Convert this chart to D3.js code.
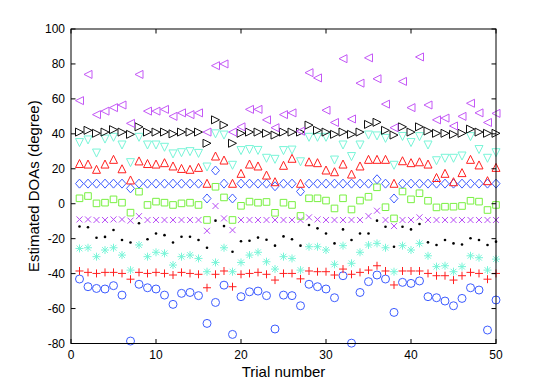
<!DOCTYPE html>
<html><head><meta charset="utf-8">
<script src="https://cdn.jsdelivr.net/npm/d3@7"></script>
<style>body{margin:0;background:#fff}svg{display:block}</style>
</head><body><svg id="c" width="548" height="386"></svg>
<script>
const trials = d3.range(1, 51);
const xTicks = [0, 10, 20, 30, 40, 50];
const yTicks = [-80, -60, -40, -20, 0, 20, 40, 60, 80, 100];

const leftTri = [59,74,51,53,55,56.5,46,74,53,53, 54,50,52,51,52,41,79,80,41,44, 54,54,48,43.5,51,52,41.5,75,72,53.5, 46.5,83,48.5,69,83.5,71.5,57,43.5,70,55, 84,56.5,48,49,44.5,50,57.5,52,46.5,51.7];
const rightTri = [41,42,40.3,41,42.4,41,39.7,44,41,41, 41,40,41,41,41,34.6,48,45,34.6,40.3, 41,41,40.3,39.3,41,41,41,45,42,41, 39.7,41,39.7,41,45.4,46.6,42,39.3,44,41, 44,41.6,40.3,40.3,39.7,40.3,42.7,41,40.3,40.3];
const downTri = [35,36.5,29,37,38,33.6,23.5,38,33.6,33.6, 32.3,28.5,29.2,29.8,28.8,21,40,39.3,22,30.4, 31,30.5,26,25.4,30.4,30.7,24,38,38,38, 25,33.6,27,33.6,39.3,38.8,37.4,22,38.5,35, 38.4,33.6,24.6,26,26,27.3,38.4,31,26,29.2];
const upTri = [23,22.7,19.7,22.7,25.4,20,13.6,24.5,23,22.7, 23.5,21.6,20.2,19.7,20.8,11.7,27.3,25,11.7,17.4, 22.7,21.6,16.4,12.6,22,26,11.7,24,23.5,19.3, 18.3,22.7,17,21.6,25.4,25.4,25.4,11.7,24.6,23.5, 24,22.7,15,17.4,12.6,17.8,25.4,22.2,13.2,20.8];
const diamonds = [11.5,11.5,11.5,11.5,11.5,11.5,8.8,11.5,11.5,11.5, 11.5,11.5,11.5,11.5,11.5,3,19,11.5,3,11.5, 11.5,11.5,11.5,10,11.5,11.5,7,11.5,11.5,11.5, 11.5,11.5,11.5,11.5,11.5,14,11.5,3,11.5,11.5, 11.5,11.5,11.5,11.5,11.5,11.5,11.5,11.5,11.5,11.5];
const squares = [3.1,4.4,0.2,0.6,2.5,0.6,-5.1,6.9,-0.7,1.2, 0.6,-0.7,0.2,0.6,-0.7,-9.3,9.7,3.6,-9.3,-1.2, 1.2,0.6,1,-5.2,0.6,-0.7,-7,3.1,3.1,1.8, -2.7,3.1,-3.3,1.8,4,9.4,-2,-8.4,7,2.5, 6,1.7,-2.1,-1.7,-1.7,-1.3,1.7,1.2,-3.6,-0.7];
const crosses = [-9,-9,-9.3,-9.3,-9,-9,-9.7,-7.1,-9.3,-9.3, -9.3,-9.3,-9.3,-9.3,-9.3,-15.5,-1.3,-8.4,-15.1,-9.3, -9.3,-9.3,-9.3,-9.3,-9.3,-9.3,-9.3,-7.8,-9,-9.3, -9.3,-9.3,-9.3,-9.3,-7.1,-4,-9.3,-12.8,-9.3,-9.3, -7.8,-9.3,-9.3,-9.3,-9.3,-9.3,-9.3,-9.3,-9.3,-9.3];
const dots = [-13,-13.5,-19.5,-19,-15,-20.8,-22.2,-11.2,-20.3,-17, -18,-22.2,-18.9,-18.9,-20.8,-25.2,-9.7,-12.8,-27.5,-21.5, -21.2,-19.4,-20.6,-24,-18.7,-20.3,-24,-12.2,-14.1,-17, -22.7,-14.7,-20.8,-17,-17,-9.7,-13.2,-24.6,-13.2,-14.7, -11.6,-22.1,-23.6,-20.8,-22.7,-23.3,-19.8,-20.8,-23.6,-21.7];
const stars = [-25.6,-25.2,-30.3,-26.5,-25.2,-29.4,-38,-23.6,-30.3,-27.8, -28.4,-35.1,-30.3,-29.4,-31.3,-38.9,-33.6,-25.2,-38.9,-33.6, -29.4,-27.8,-33.2,-37.4,-30.3,-31.3,-38,-24.6,-24.6,-26.5, -34.7,-24,-34.1,-27.8,-23.6,-22.7,-25.2,-38.9,-24,-26.5, -22.7,-29.8,-36,-35.5,-38.9,-36,-29.8,-30.9,-38,-31.7];
const pluses = [-38.5,-39.3,-39.9,-39.3,-39.3,-39.9,-43.2,-39.3,-39.9,-39.3, -39.9,-40.8,-39.3,-39.9,-40.4,-48.1,-40.4,-38.5,-47.5,-40.4, -39.9,-39.3,-40.4,-43.7,-39.9,-39.9,-43,-38.5,-38.9,-38.9, -40.8,-37.4,-40.4,-39.3,-38,-35.5,-38.5,-46.5,-38.5,-38.5, -38.5,-39.9,-41.2,-41.2,-43.7,-41.2,-39.3,-39.9,-43.2,-39.9];
const circles = [-43.1,-47.5,-48.5,-48.8,-46.9,-52.3,-78.6,-46.1,-48.1,-48.8, -52.3,-57.6,-51.3,-50.8,-52.6,-68.5,-56.5,-46.6,-74.8,-53.2, -50.4,-50,-52.6,-71.7,-52.3,-52.6,-58.4,-46.1,-47.5,-48.8, -53.8,-41.2,-79.8,-50.8,-44.6,-40.8,-43.1,-62.2,-45,-45.6, -44.2,-53.2,-53.8,-55.7,-58.4,-54.2,-48.1,-49.4,-72.3,-55.1];

const series = [
  {vals: circles,  marker: "circle",  color: "#3d5cff"},
  {vals: pluses,   marker: "plus",    color: "#ff1f1f"},
  {vals: stars,    marker: "star",    color: "#78f5d8"},
  {vals: dots,     marker: "dot",     color: "#000000"},
  {vals: crosses,  marker: "x",       color: "#b84cf6"},
  {vals: squares,  marker: "square",  color: "#78f040"},
  {vals: diamonds, marker: "diamond", color: "#3d5cff"},
  {vals: upTri,    marker: "up",      color: "#ff1f1f"},
  {vals: downTri,  marker: "down",    color: "#78f5d8"},
  {vals: rightTri, marker: "right",   color: "#111111"},
  {vals: leftTri,  marker: "left",    color: "#c458f6"}
];

const L = 71, R = 496, T = 29, B = 343.5;
const x = d3.scaleLinear().domain([0, 50]).range([L, R]);
const y = d3.scaleLinear().domain([-80, 100]).range([B, T]);

const svg = d3.select("#c");
const font = "'Liberation Sans', Arial, Helvetica, sans-serif";

function markerPath(m) {
  const s = 4;
  switch (m) {
    case "up":    return `M0,${-s}L${s},${s}L${-s},${s}Z`;
    case "down":  return `M0,${s}L${s},${-s}L${-s},${-s}Z`;
    case "left":  return `M${-s},0L${s},${-s}L${s},${s}Z`;
    case "right": return `M${s},0L${-s},${-s}L${-s},${s}Z`;
    case "diamond": return `M0,${-s-0.5}L${s},0L0,${s+0.5}L${-s},0Z`;
    case "square": return "M-3.3,-3.3H3.3V3.3H-3.3Z";
    case "plus":  return `M${-s},0H${s}M0,${-s}V${s}`;
    case "x":     return "M-3,-3L3,3M-3,3L3,-3";
    case "star":  return "M-4,0H4M0,-4V4M-2.9,-2.9L2.9,2.9M-2.9,2.9L2.9,-2.9";
  }
}

const plot = svg.append("g");
series.forEach(sr => {
  const g = plot.append("g");
  if (sr.marker === "circle") {
    g.selectAll("circle").data(trials).join("circle")
      .attr("cx", d => x(d)).attr("cy", (d, i) => y(sr.vals[i]))
      .attr("r", 4).attr("fill", "none").attr("stroke", sr.color).attr("stroke-width", 1);
  } else if (sr.marker === "dot") {
    g.selectAll("circle").data(trials).join("circle")
      .attr("cx", d => x(d)).attr("cy", (d, i) => y(sr.vals[i]))
      .attr("r", 1.3).attr("fill", sr.color);
  } else {
    g.selectAll("path").data(trials).join("path")
      .attr("transform", (d, i) => `translate(${x(d)},${y(sr.vals[i])})`)
      .attr("d", markerPath(sr.marker))
      .attr("fill", "none").attr("stroke", sr.color).attr("stroke-width", 1);
  }
});

const ax = svg.append("g");
ax.append("rect").attr("x", L).attr("y", T).attr("width", R - L).attr("height", B - T)
  .attr("fill", "none").attr("stroke", "#000").attr("stroke-width", 1);

const tl = 4.5;
xTicks.forEach(t => {
  const px = x(t);
  ax.append("line").attr("x1", px).attr("x2", px).attr("y1", B).attr("y2", B - tl).attr("stroke", "#000");
  ax.append("line").attr("x1", px).attr("x2", px).attr("y1", T).attr("y2", T + tl).attr("stroke", "#000");
  ax.append("text").attr("x", px).attr("y", B + 15).attr("text-anchor", "middle")
    .attr("font-family", font).attr("font-size", 12).text(t);
});
yTicks.forEach(t => {
  const py = y(t);
  ax.append("line").attr("x1", L).attr("x2", L + tl).attr("y1", py).attr("y2", py).attr("stroke", "#000");
  ax.append("line").attr("x1", R).attr("x2", R - tl).attr("y1", py).attr("y2", py).attr("stroke", "#000");
  ax.append("text").attr("x", L - 6).attr("y", py + 4).attr("text-anchor", "end")
    .attr("font-family", font).attr("font-size", 12).text(t);
});

svg.append("text").attr("x", (L + R) / 2).attr("y", B + 33).attr("text-anchor", "middle")
  .attr("font-family", font).attr("font-size", 15).text("Trial number");
svg.append("text").attr("transform", `translate(${L - 32},${(T + B) / 2}) rotate(-90)`)
  .attr("text-anchor", "middle").attr("font-family", font).attr("font-size", 15)
  .text("Estimated DOAs (degree)");
</script>
</body></html>
